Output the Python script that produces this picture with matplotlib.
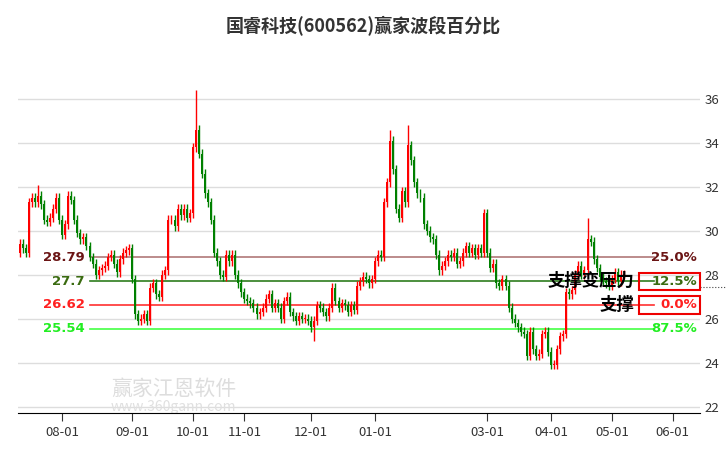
import matplotlib
matplotlib.use("Agg")
import matplotlib.pyplot as plt
import numpy as np
import pandas as pd

plt.rcParams["font.family"] = ["Noto Sans CJK SC", "DejaVu Sans"]

TITLE = "国睿科技(600562)赢家波段百分比"

# closes per month (trading days)
jul = [29.4, 29.2, 29.0, 31.3, 31.5, 31.3, 31.6, 31.2, 30.5, 30.4, 30.6, 31.0, 31.5, 30.5]
aug = [29.8, 30.3, 31.6, 31.4, 30.5, 29.9, 29.6, 29.7, 29.3, 28.8, 28.5, 28.0, 28.2, 28.3,
       28.4, 28.8, 28.9, 28.5, 28.1, 28.7, 29.0, 29.1, 29.2]
sep = [27.8, 26.2, 25.9, 26.0, 26.2, 25.9, 27.4, 27.6, 27.1, 27.0, 28.0, 28.2, 30.5, 30.5,
       30.2, 31.0, 30.7, 31.0, 30.6, 30.8]
oct_ = [33.8, 34.6, 33.5, 32.6, 31.7, 31.3, 30.5, 29.0, 28.6, 28.0, 27.9, 28.9, 28.6, 28.9,
        28.0, 27.6, 27.2]
nov = [26.9, 26.8, 26.7, 26.5, 26.2, 26.3, 26.5, 26.9, 27.1, 26.5, 26.7, 26.5, 26.0, 26.8,
       27.0, 26.3, 26.1, 25.9, 26.1, 26.0, 26.0, 25.9]
dec = [25.6, 25.9, 26.6, 26.5, 26.3, 26.1, 26.5, 27.4, 26.8, 26.5, 26.7, 26.6, 26.3, 26.6,
       26.4, 27.5, 27.7, 27.9, 27.8, 27.6, 27.8]
janfeb = [28.6, 28.9, 28.8, 31.3, 32.2, 34.1, 32.8, 31.0, 30.6, 31.8, 31.3, 33.9, 33.2, 32.2,
          31.7, 31.5, 30.3, 30.0, 29.7, 29.6, 28.9, 28.2, 28.4, 28.6, 28.9, 28.8, 29.0, 28.5,
          28.6, 29.0, 29.3, 29.0, 29.2, 28.9, 29.2, 29.0, 30.8]
mar = [29.0, 28.3, 28.5, 27.6, 27.5, 27.8, 27.5, 26.5, 26.0, 25.8, 25.6, 25.4, 25.3, 24.3,
       25.4, 24.6, 24.3, 24.4, 25.3, 25.4, 24.5]
apr = [23.9, 23.9, 24.6, 25.2, 25.3, 27.2, 27.1, 27.3, 28.0, 28.4, 28.0, 28.2, 29.6, 29.5,
       28.7, 28.3, 27.9, 27.7, 27.6, 27.5]
may = [27.8, 28.1, 27.7, 28.0, 28.0]
first_open = 29.0

spike_high = {"2023-07-20": 32.1, "2023-10-10": 36.4, "2024-01-09": 34.6,
              "2024-01-17": 34.8, "2024-04-19": 30.6}
spike_low = {"2023-12-04": 25.0}

holidays = ["2023-09-29", "2023-10-02", "2023-10-03", "2023-10-04", "2023-10-05", "2023-10-06",
            "2024-01-01", "2024-02-09", "2024-02-12", "2024-02-13", "2024-02-14", "2024-02-15",
            "2024-02-16", "2024-04-04", "2024-04-05", "2024-05-01", "2024-05-02", "2024-05-03",
            "2024-06-10"]

levels = [28.79, 27.7, 26.62, 25.54]
level_colors = ["#b07878", "#2e7d1e", "#ff3030", "#44ff44"]
label_colors = ["#6b1515", "#3a6b10", "#ff2020", "#22ee22"]
pct_labels = ["25.0%", "12.5%", "0.0%", "87.5%"]

closes = np.array(jul + aug + sep + oct_ + nov + dec + janfeb + mar + apr + may)
days = pd.bdate_range("2023-07-12", "2024-06-10")
days = days[~days.isin(pd.to_datetime(holidays))]
opens = np.concatenate([[first_open], closes[:-1]])
n = len(closes)
x = np.arange(n)
hi = np.maximum(opens, closes) + 0.2
lo = np.minimum(opens, closes) - 0.2
for d, v in spike_high.items():
    i = days.get_loc(pd.Timestamp(d))
    if i < n:
        hi[i] = v
for d, v in spike_low.items():
    i = days.get_loc(pd.Timestamp(d))
    if i < n:
        lo[i] = v

fig = plt.figure(figsize=(7.26, 4.5), dpi=100)
ax = fig.add_axes([0.025, 0.082, 0.939, 0.796])
up = closes >= opens
cols = np.where(up, "#ff0000", "#008000")
ax.vlines(x, lo, hi, colors=cols, lw=1, zorder=3)
ax.bar(x, np.maximum(np.abs(closes - opens), 0.05), bottom=np.minimum(opens, closes),
       width=0.65, color=cols, zorder=3)

x0, x1 = 23, 209
for lv, lc, tc, pl in zip(levels, level_colors, label_colors, pct_labels):
    ax.plot([x0, x1], [lv, lv], color=lc, lw=1.2, zorder=2)
    ax.text(x0 - 1.5, lv, f"{lv:g}", color=tc, fontsize=9.5, fontweight="bold",
            ha="right", va="center", family="DejaVu Sans")
    ax.text(223, lv, pl, color=tc, fontsize=9.5, fontweight="bold", ha="right",
            va="center", family="DejaVu Sans", zorder=6)

ax.plot([224, 240], [27.45, 27.45], color="#444444", lw=0.8, ls=":", clip_on=False)
for lv in (27.7, 26.62):
    ax.add_patch(plt.Rectangle((203.8, lv - 0.39), 20.4, 0.78, fill=False, ec="#ee0000",
                               lw=1.5, zorder=4, clip_on=False))
ax.text(202.3, 27.7, "支撑变压力", fontsize=12.5, fontweight="bold", ha="right", va="center",
        zorder=5)
ax.text(202.3, 26.62, "支撑", fontsize=12.5, fontweight="bold", ha="right", va="center",
        zorder=5)

ax.text(30, 22.8, "赢家江恩软件", fontsize=15, color="#dddddd", zorder=1, ha="left",
        va="center")
ax.text(30, 22.0, "www.360gann.com", fontsize=10, color="#e0e0e0", zorder=1, ha="left",
        va="center")

ax.set_xlim(-0.5, 224)
ax.set_ylim(21.7, 38)
ax.set_yticks(np.arange(22, 37, 2))
ax.yaxis.tick_right()
ax.tick_params(axis="y", length=0, labelsize=9.5, colors="#333333")
ax.grid(axis="y", color="#dddddd", lw=1)
ax.set_axisbelow(True)

months = pd.Series(np.arange(len(days)), index=days)
firsts = months.groupby([days.year, days.month]).first()
tick_pos, tick_lab = [], []
for (yr, mo), pos in firsts.items():
    if mo == 7 or mo == 2:
        continue
    tick_pos.append(pos)
    tick_lab.append(f"{mo:02d}-01")
ax.set_xticks(tick_pos)
ax.set_xticklabels(tick_lab)
ax.tick_params(axis="x", length=6, labelsize=9.5, colors="#333333")
for s in ("top", "left", "right"):
    ax.spines[s].set_visible(False)

fig.suptitle(TITLE, y=0.965, fontsize=13, fontweight="bold", color="#333333")
fig.savefig("out.png", dpi=100)
